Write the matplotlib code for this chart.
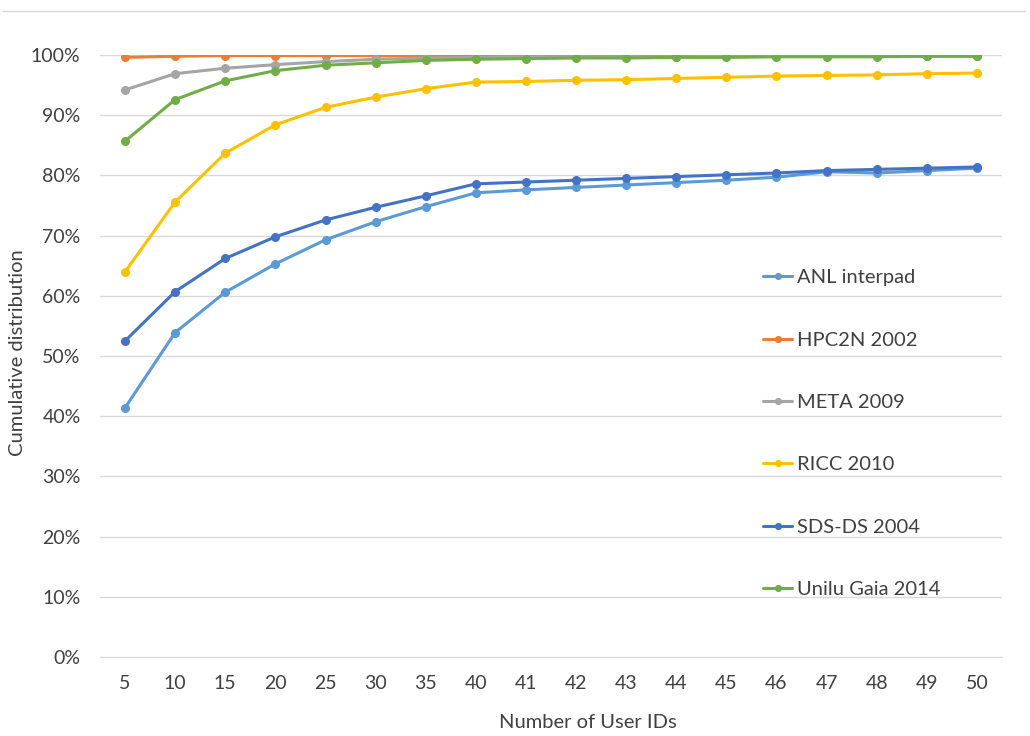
import numpy as np
import matplotlib
matplotlib.use("Agg")
import matplotlib.pyplot as plt
from matplotlib.lines import Line2D
from matplotlib.ticker import PercentFormatter

# x categories (number of user IDs)
user_ids = ["5", "10", "15", "20", "25", "30", "35", "40", "41", "42",
            "43", "44", "45", "46", "47", "48", "49", "50"]

# cumulative distribution, in percent
anl_interpad = [41.4, 53.9, 60.6, 65.3, 69.3, 72.3, 74.8, 77.1, 77.6,
                78.0, 78.4, 78.8, 79.2, 79.7, 80.6, 80.4, 80.8, 81.2]
hpc2n_2002 = [99.6, 99.8, 99.9, 99.9, 99.9, 99.9, 99.9, 99.9, 99.9,
              99.9, 99.9, 99.9, 99.9, 99.9, 99.9, 99.9, 99.9, 99.9]
meta_2009 = [94.2, 96.9, 97.8, 98.4, 98.9, 99.3, 99.5, 99.6, 99.7,
             99.7, 99.7, 99.7, 99.8, 99.8, 99.8, 99.8, 99.8, 99.8]
ricc_2010 = [64.0, 75.6, 83.7, 88.4, 91.3, 93.0, 94.4, 95.5, 95.6,
             95.8, 95.9, 96.1, 96.3, 96.5, 96.6, 96.7, 96.9, 97.0]
sds_ds_2004 = [52.5, 60.7, 66.2, 69.8, 72.6, 74.7, 76.6, 78.6, 78.9,
               79.2, 79.5, 79.8, 80.1, 80.4, 80.8, 81.0, 81.2, 81.4]
unilu_gaia_2014 = [85.7, 92.6, 95.7, 97.4, 98.3, 98.7, 99.1, 99.3, 99.4,
                   99.5, 99.5, 99.6, 99.6, 99.7, 99.7, 99.7, 99.8, 99.8]

series = [
    ("ANL interpad", anl_interpad, "#5B9BD5"),
    ("HPC2N 2002", hpc2n_2002, "#ED7D31"),
    ("META 2009", meta_2009, "#A5A5A5"),
    ("RICC 2010", ricc_2010, "#FFC000"),
    ("SDS-DS 2004", sds_ds_2004, "#4472C4"),
    ("Unilu Gaia 2014", unilu_gaia_2014, "#70AD47"),
]

plt.rcParams["font.family"] = ["Lato", "DejaVu Sans"]
text_color = "#404040"
grid_color = "#D9D9D9"

fig = plt.figure(figsize=(10.30, 7.36), dpi=100)
ax = fig.add_axes([100 / 1030, 1 - 657 / 736, 902 / 1030, 602 / 736])

x = np.arange(len(user_ids))
for name, vals, color in series:
    ax.plot(x, vals, color=color, lw=2.2, marker="o", ms=5.5, label=name,
            solid_capstyle="round")

ax.set_xlim(-0.5, len(user_ids) - 0.5)
ax.set_ylim(0, 100)
ax.set_yticks(np.arange(0, 101, 10))
ax.yaxis.set_major_formatter(PercentFormatter(decimals=0))
ax.set_xticks(x)
ax.set_xticklabels(user_ids)
ax.tick_params(length=0, labelsize=14, colors=text_color)
ax.tick_params(axis="x", pad=13)
ax.tick_params(axis="y", pad=14)
ax.grid(axis="y", color=grid_color, lw=1)
ax.set_axisbelow(True)
for side in ["top", "right", "left"]:
    ax.spines[side].set_visible(False)
ax.spines["bottom"].set_color(grid_color)

fig.text(18 / 1030, 1 - 353 / 736, "Cumulative distribution", rotation=90,
         fontsize=14.5, color=text_color, ha="center", va="center")
fig.text(588 / 1030, 1 - 723 / 736, "Number of User IDs",
         fontsize=14.5, color=text_color, ha="center", va="center")

leg = fig.legend(loc="upper left", bbox_to_anchor=(745 / 1030, 1 - 251 / 736),
                 frameon=False, fontsize=14.5, labelspacing=2.25,
                 handlelength=1.45, handletextpad=0.25, markerscale=0.75)
for t in leg.get_texts():
    t.set_color(text_color)

# thin border line at the top of the chart area
fig.add_artist(Line2D([3 / 1030, 1025 / 1030], [1 - 11 / 736, 1 - 11 / 736],
                      color=grid_color, lw=1, transform=fig.transFigure))

fig.savefig("out.png", dpi=100)
